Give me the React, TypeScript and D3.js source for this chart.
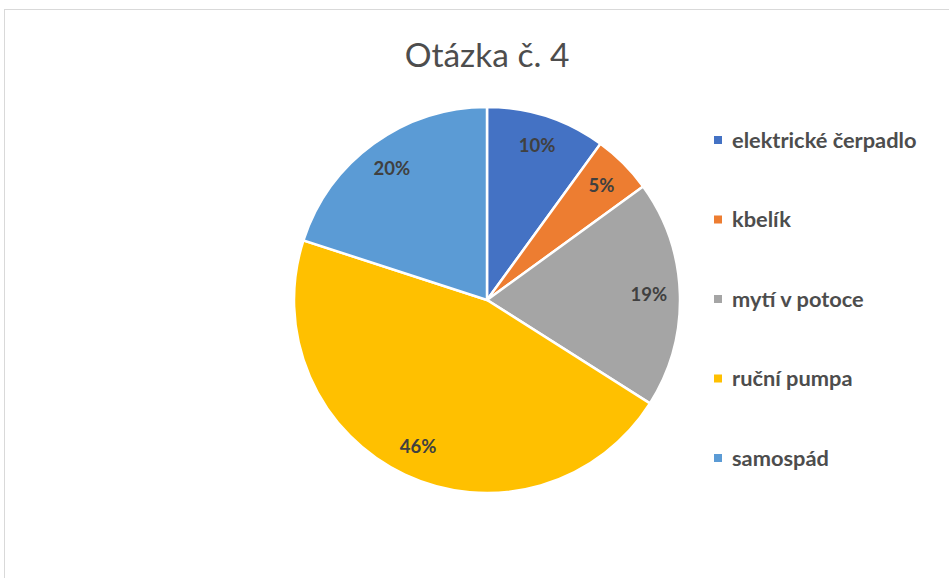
import React from 'react';
import * as d3 from 'd3';

const title = 'Otázka č. 4';
const categories = ['elektrické čerpadlo', 'kbelík', 'mytí v potoce', 'ruční pumpa', 'samospád'];
const values = [10, 5, 19, 46, 20];
const colors = ['#4472C4', '#ED7D31', '#A5A5A5', '#FFC000', '#5B9BD5'];

const W = 949;
const H = 578;
const cx = 487;
const cy = 300;
const radius = 193;
const font = "Lato, 'Open Sans', sans-serif";

const App = () => {
  const pie = d3.pie<number>().sort(null).value((d) => d);
  const arcs = pie(values);
  const arc = d3.arc<d3.PieArcDatum<number>>().innerRadius(0).outerRadius(radius);
  const labelArc = d3.arc<d3.PieArcDatum<number>>().innerRadius(162).outerRadius(162);
  const total = d3.sum(values);

  // legend rows spaced evenly
  const legendY = d3.scalePoint<string>().domain(categories).range([140, 458]);

  return (
    <svg width={W} height={H} style={{ position: 'absolute', left: 0, top: 0 }}>
      <rect x={0} y={0} width={W} height={H} fill="#fff" />
      <rect x={4.5} y={9.5} width={W} height={H} fill="none" stroke="#d9d9d9" strokeWidth={1} />
      <text x={cx} y={67} textAnchor="middle" fontFamily={font} fontSize={33.5} fill="#4d4d4d">
        {title}
      </text>
      <g transform={`translate(${cx},${cy})`}>
        {arcs.map((a, i) => (
          <path key={categories[i]} d={arc(a) || ''} fill={colors[i]} stroke="#fff" strokeWidth={2.5} />
        ))}
        {arcs.map((a, i) => {
          const [lx, ly] = labelArc.centroid(a);
          return (
            <text
              key={'l' + i}
              x={lx}
              y={ly}
              dy="0.35em"
              textAnchor="middle"
              fontFamily={font}
              fontSize={18.5}
              fontWeight="bold"
              fill="#404040"
            >
              {Math.round((values[i] / total) * 100)}%
            </text>
          );
        })}
      </g>
      <g>
        {categories.map((c, i) => {
          const y = legendY(c) as number;
          return (
            <g key={c}>
              <rect x={714} y={y - 4} width={8} height={8} fill={colors[i]} />
              <text
                x={732}
                y={y}
                dy="0.35em"
                fontFamily={font}
                fontSize={21.8}
                fontWeight="bold"
                fill="#4d4d4d"
              >
                {c}
              </text>
            </g>
          );
        })}
      </g>
    </svg>
  );
};

export default App;
